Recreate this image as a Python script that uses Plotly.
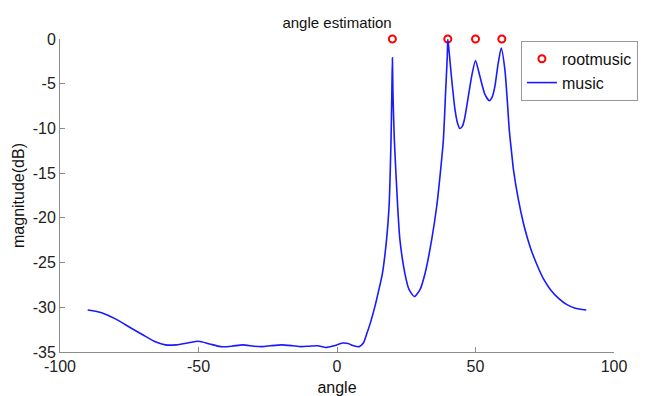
import plotly.graph_objects as go

# root-music estimates (angle, dB)
root_angles = [20, 40, 50, 59.5]
root_db = [0, 0, 0, 0]

# music spectrum
music_angles = [
    -90, -85, -80, -75, -70, -66, -62, -58, -54, -50, -46, -42, -38, -34, -30,
    -27, -24, -20, -16, -13, -10, -7, -4, -1, 2, 4, 6, 8, 9.5, 10.7, 12, 13.7,
    15, 16.4, 17.9, 18.8, 19.5, 19.8, 20, 20.2, 20.7, 21.9, 22.7, 24.5, 26,
    27.9, 30, 31.8, 34.2, 36, 37.3, 38.4, 39.2, 39.8, 40, 40.5, 41.4, 42.6,
    43.5, 44.3, 45.2, 46.0, 46.8, 48.6, 50, 51.6, 53.4, 55, 56, 57, 58.2, 59.3,
    60.6, 61.5, 62.2, 63.0, 63.7, 65.5, 67.3, 68.5, 70, 72, 74.5, 77, 80, 83,
    86, 90,
]
music_db = [
    -30.3, -30.6, -31.3, -32.2, -33.1, -33.8, -34.2, -34.2, -34.0, -33.8,
    -34.1, -34.4, -34.35, -34.2, -34.35, -34.4, -34.3, -34.2, -34.3, -34.4,
    -34.35, -34.3, -34.5, -34.3, -34.0, -34.05, -34.3, -34.4, -34.0, -33.0,
    -31.8, -29.9, -28.2, -26.2, -22.4, -18.7, -11.3, -6.0, -2.1, -6.0, -11.3,
    -18.7, -22.4, -26.2, -28.0, -28.8, -28.0, -26.2, -22.4, -18.7, -15.0,
    -11.3, -6.0, -2.0, 0.0, -1.5, -4.5, -7.9,
    -9.4, -10.0, -9.8, -9.0, -7.6, -4.2, -2.4, -4.2, -6.2, -6.9, -6.5, -5.3,
    -2.7, -1.0, -3.4, -7.0, -10.2, -12.6, -14.6, -18.0, -20.6, -22.0, -23.5,
    -25.1, -26.8, -28.0, -29.0, -29.7, -30.1, -30.3,
]

x_ticks = [-100, -50, 0, 50, 100]
y_ticks = [0, -5, -10, -15, -20, -25, -30, -35]

FONT = "Arial, Liberation Sans, sans-serif"

fig = go.Figure()
fig.add_trace(go.Scatter(
    x=root_angles, y=root_db, mode="markers", name="rootmusic",
    marker=dict(symbol="circle-open", size=7, color="#ff0000",
                line=dict(width=2, color="#ff0000")),
    cliponaxis=False,
))
fig.add_trace(go.Scatter(
    x=music_angles, y=music_db, mode="lines", name="music",
    line=dict(color="#1a1aff", width=1.6, shape="spline", smoothing=0.6),
))

axis_common = dict(
    showgrid=False, zeroline=False, showline=True, linecolor="#8c8c8c",
    linewidth=1, ticks="inside", ticklen=5, tickcolor="#8c8c8c",
    tickfont=dict(family=FONT, size=16, color="#222222"),
    mirror=False, automargin=False,
)

# the page body adds an 8px offset, so the figure is sized to fit the window
fig.update_layout(
    width=649, height=388,
    margin=dict(l=52, r=43, t=31, b=44, autoexpand=False),
    paper_bgcolor="white", plot_bgcolor="white",
    title=dict(text="angle estimation", x=0.507, xanchor="center",
               y=0.962, yanchor="middle",
               font=dict(family=FONT, size=15, color="#111111")),
    xaxis=dict(range=[-100, 100], tickvals=x_ticks,
               ticktext=[str(v) for v in x_ticks],
               title=dict(text="angle", standoff=8,
                          font=dict(family=FONT, size=16, color="#111111")),
               **axis_common),
    yaxis=dict(range=[-35, 0], tickvals=y_ticks,
               ticktext=[str(v) for v in y_ticks],
               title=dict(text="magnitude(dB)", standoff=4,
                          font=dict(family=FONT, size=16, color="#111111")),
               **axis_common),
    legend=dict(x=0.832, y=0.994, xanchor="left", yanchor="top",
                bgcolor="white", bordercolor="#999999", borderwidth=1,
                font=dict(family=FONT, size=16, color="#111111"),
                itemwidth=30, tracegroupgap=0),
    showlegend=True,
)

fig.write_html("out.html")
